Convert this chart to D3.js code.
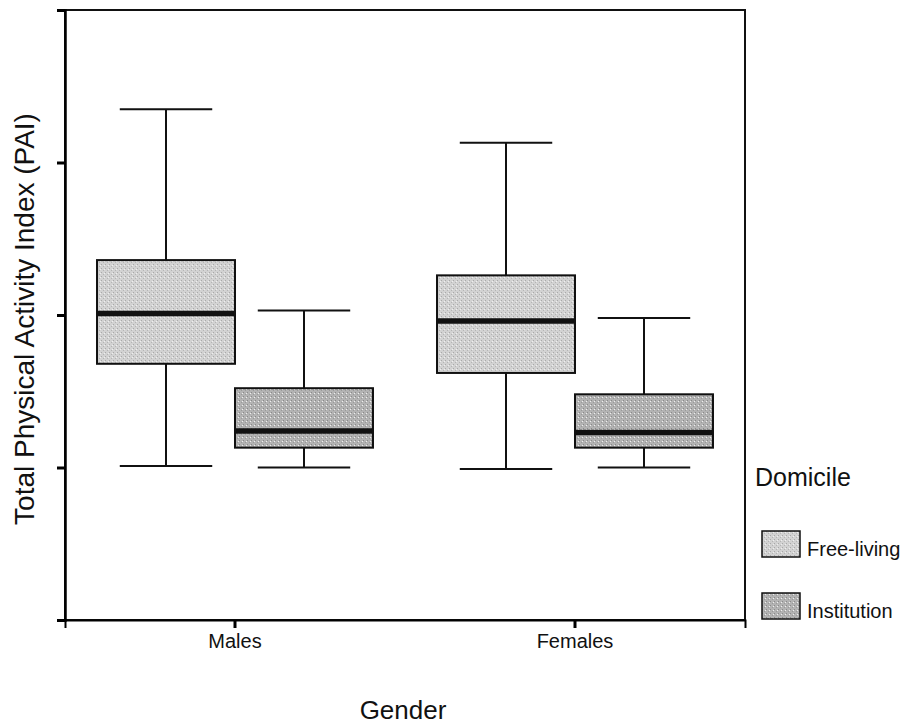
<!DOCTYPE html>
<html>
<head>
<meta charset="utf-8">
<script src="https://cdn.jsdelivr.net/npm/d3@7"></script>
<style>
  body { margin: 0; background: #fff; }
  text { font-family: "Liberation Sans", Arial, sans-serif; fill: #111; }
</style>
</head>
<body>
<svg id="chart" width="911" height="728"></svg>
<script>
// Box plot of PAI by gender and domicile.
// y units match the (unlabelled) axis ticks 0..4.
const genders = ["Males", "Females"];
const domiciles = ["Free-living", "Institution"];
const yTicks = [0, 1, 2, 3, 4];

const whiskerLow  = [[1.01, 1.00], [0.99, 1.00]];
const quartile1   = [[1.68, 1.13], [1.62, 1.13]];
const medians     = [[2.01, 1.24], [1.96, 1.23]];
const quartile3   = [[2.36, 1.52], [2.26, 1.48]];
const whiskerHigh = [[3.35, 2.03], [3.13, 1.98]];

const fills = { "Free-living": "#d2d2d2", "Institution": "#b3b3b3" };

const svg = d3.select("#chart");
const plotLeft = 65, plotRight = 745, plotTop = 10, plotBottom = 620;

const x0 = d3.scaleBand().domain(genders).range([plotLeft, plotRight]).padding(0);
const x1 = d3.scaleBand().domain(domiciles).range([0, x0.bandwidth()])
  .paddingInner(0).paddingOuter(0.232);
const y = d3.scaleLinear().domain([0, 4]).range([plotBottom, plotTop]);

// stipple texture for the boxes
const defs = svg.append("defs");
domiciles.forEach((d, i) => {
  const pat = defs.append("pattern").attr("id", "pat" + i)
    .attr("patternUnits", "userSpaceOnUse").attr("width", 4).attr("height", 4);
  pat.append("rect").attr("width", 4).attr("height", 4).attr("fill", fills[d]);
  pat.append("rect").attr("x", 0).attr("y", 0).attr("width", 1).attr("height", 1)
    .attr("fill", i ? "#8a8a8a" : "#a8a8a8");
  pat.append("rect").attr("x", 2).attr("y", 2).attr("width", 1).attr("height", 1)
    .attr("fill", i ? "#9a9a9a" : "#b4b4b4");
  pat.append("rect").attr("x", 3).attr("y", 1).attr("width", 1).attr("height", 1)
    .attr("fill", "#efefef");
});

const data = [];
genders.forEach((g, gi) => domiciles.forEach((d, di) => data.push({
  g, d, di,
  lo: whiskerLow[gi][di], q1: quartile1[gi][di], med: medians[gi][di],
  q3: quartile3[gi][di], hi: whiskerHigh[gi][di],
})));

const boxes = svg.append("g").selectAll("g").data(data).join("g")
  .attr("transform", d => `translate(${x0(d.g) + x1(d.d)},0)`);

const bw = x1.bandwidth();
const capW = bw * 0.67;

boxes.append("line")
  .attr("x1", bw / 2).attr("x2", bw / 2)
  .attr("y1", d => y(d.hi)).attr("y2", d => y(d.q3))
  .attr("stroke", "#111").attr("stroke-width", 2);
boxes.append("line")
  .attr("x1", bw / 2).attr("x2", bw / 2)
  .attr("y1", d => y(d.q1)).attr("y2", d => y(d.lo))
  .attr("stroke", "#111").attr("stroke-width", 2);
boxes.append("line")
  .attr("x1", (bw - capW) / 2).attr("x2", (bw + capW) / 2)
  .attr("y1", d => y(d.hi)).attr("y2", d => y(d.hi))
  .attr("stroke", "#111").attr("stroke-width", 2);
boxes.append("line")
  .attr("x1", (bw - capW) / 2).attr("x2", (bw + capW) / 2)
  .attr("y1", d => y(d.lo)).attr("y2", d => y(d.lo))
  .attr("stroke", "#111").attr("stroke-width", 2);
boxes.append("rect")
  .attr("x", 0).attr("width", bw)
  .attr("y", d => y(d.q3)).attr("height", d => y(d.q1) - y(d.q3))
  .attr("fill", d => `url(#pat${d.di})`)
  .attr("stroke", "#111").attr("stroke-width", 2);
boxes.append("line")
  .attr("x1", 0).attr("x2", bw)
  .attr("y1", d => y(d.med)).attr("y2", d => y(d.med))
  .attr("stroke", "#111").attr("stroke-width", 5.5);

// frame
svg.append("rect")
  .attr("x", plotLeft).attr("y", plotTop)
  .attr("width", plotRight - plotLeft).attr("height", plotBottom - plotTop)
  .attr("fill", "none").attr("stroke", "#111").attr("stroke-width", 2);

// axes
const yAxis = svg.append("g").attr("transform", `translate(${plotLeft},0)`)
  .call(d3.axisLeft(y).tickValues(yTicks).tickSize(8).tickFormat(""));
yAxis.select(".domain").attr("stroke-width", 2.5);
yAxis.selectAll(".tick line").attr("stroke-width", 3);

const xAxis = svg.append("g").attr("transform", `translate(0,${plotBottom})`)
  .call(d3.axisBottom(x0).tickSize(8));
xAxis.select(".domain").attr("stroke-width", 2);
xAxis.selectAll(".tick line").attr("stroke-width", 3);
xAxis.selectAll(".tick text")
  .attr("y", 28).attr("dy", null)
  .style("font-family", '"Liberation Sans", Arial, sans-serif')
  .style("font-size", "20px").attr("fill", "#111");

// titles
svg.append("text")
  .attr("transform", `translate(34,319) rotate(-90)`)
  .attr("text-anchor", "middle").style("font-size", "28px")
  .text("Total Physical Activity Index (PAI)");
svg.append("text")
  .attr("x", 403).attr("y", 719)
  .attr("text-anchor", "middle").style("font-size", "26px")
  .text("Gender");

// legend
const legend = svg.append("g").attr("transform", "translate(755,0)");
legend.append("text").attr("x", 0).attr("y", 486)
  .style("font-size", "25px").text("Domicile");
const items = legend.selectAll("g.item").data(domiciles).join("g")
  .attr("class", "item")
  .attr("transform", (d, i) => `translate(7,${531 + i * 62})`);
items.append("rect").attr("width", 38).attr("height", 26)
  .attr("fill", (d, i) => `url(#pat${i})`)
  .attr("stroke", "#111").attr("stroke-width", 1.5);
items.append("text").attr("x", 45).attr("y", 25)
  .style("font-size", "20px").text(d => d);
</script>
</body>
</html>
